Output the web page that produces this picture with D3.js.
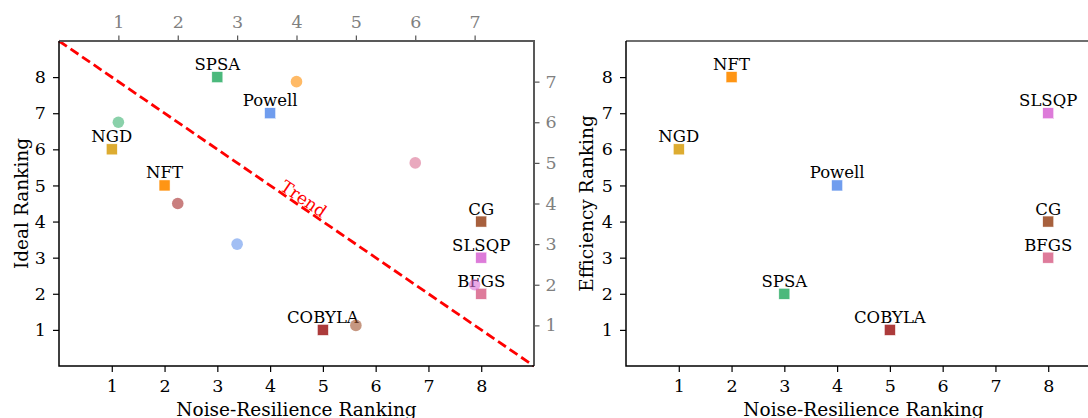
<!DOCTYPE html>
<html>
<head>
<meta charset="utf-8">
<script src="https://cdn.jsdelivr.net/npm/d3@7"></script>
<style>
  body { margin: 0; background: #fff; }
  svg { display: block; font-family: "DejaVu Serif", serif; }
</style>
</head>
<body>
<svg id="chart" width="1088" height="418"></svg>
<script>
// Methods and their rankings
const methods = ["NGD", "NFT", "SPSA", "Powell", "COBYLA", "CG", "SLSQP", "BFGS"];
const methodColors = ["#DAA520", "#FF8C00", "#3CB371", "#6495ED", "#A52A2A", "#A0522D", "#DA70D6", "#DB7093"];
const noiseRank = [1, 2, 3, 4, 5, 8, 8, 8];
const idealRank = [6, 5, 8, 7, 1, 4, 3, 2];
const efficiencyRank = [6, 8, 2, 5, 1, 4, 7, 3];

// Secondary (twin-axis) points on the left panel
const twinX = [1, 2, 3, 4, 5, 6, 7];
const twinY = [6, 4, 3, 7, 1, 5, 2];
const twinMethod = ["SPSA", "COBYLA", "Powell", "NFT", "CG", "BFGS", "SLSQP"];

// Trend line endpoints (primary axes)
const trendX = [0, 9];
const trendY = [9, 0];

const mainTicks = [1, 2, 3, 4, 5, 6, 7, 8];
const twinTicks = [1, 2, 3, 4, 5, 6, 7];

const svg = d3.select("#chart");
const plotTop = 41, plotBottom = 366;
const colorOf = (m) => methodColors[methods.indexOf(m)];

function styleAxis(g, color, textColor) {
  g.select(".domain").remove();
  g.selectAll(".tick line").attr("stroke", color).attr("stroke-width", 1.2);
  g.selectAll(".tick text").attr("fill", textColor).style("font-size", "17.5px")
    .style("font-family", "DejaVu Serif");
}

function panel(left, right, yValues, yLabel, labelX) {
  const x = d3.scaleLinear().domain([0, 9]).range([left, right]);
  const y = d3.scaleLinear().domain([0, 9]).range([plotBottom, plotTop]);

  svg.append("g")
    .attr("transform", `translate(0,${plotBottom})`)
    .call(d3.axisBottom(x).tickValues(mainTicks).tickSize(6).tickPadding(8))
    .call((g) => styleAxis(g, "#000", "#000"));

  svg.append("g")
    .attr("transform", `translate(${left},0)`)
    .call(d3.axisLeft(y).tickValues(mainTicks).tickSize(6).tickPadding(7))
    .call((g) => styleAxis(g, "#000", "#000"));

  // axis titles
  svg.append("text")
    .attr("x", (left + right) / 2).attr("y", 415.5)
    .attr("text-anchor", "middle")
    .style("font-size", "18.5px")
    .text("Noise-Resilience Ranking");

  svg.append("text")
    .attr("transform", `translate(${labelX},${(plotTop + plotBottom) / 2}) rotate(-90)`)
    .attr("text-anchor", "middle")
    .style("font-size", "18.5px")
    .text(yLabel);

  // squares with labels
  const pts = svg.append("g");
  methods.forEach((m, i) => {
    const cx = x(noiseRank[i]), cy = y(yValues[i]);
    pts.append("rect")
      .attr("x", cx - 5.5).attr("y", cy - 5.5)
      .attr("width", 11).attr("height", 11)
      .attr("fill", methodColors[i])
      .attr("fill-opacity", 0.92)
      .attr("stroke", "#fff").attr("stroke-width", 0.5);
    pts.append("text")
      .attr("x", cx).attr("y", cy - 7)
      .attr("text-anchor", "middle")
      .style("font-size", "16.5px")
      .text(m);
  });

  return { x, y };
}

// Left panel
const L = panel(59, 534, idealRank, "Ideal Ranking", 28);

// Trend line
svg.append("line")
  .attr("x1", L.x(trendX[0])).attr("y1", L.y(trendY[0]))
  .attr("x2", L.x(trendX[1])).attr("y2", L.y(trendY[1]))
  .attr("stroke", "#ff0000").attr("stroke-width", 2.8)
  .attr("stroke-dasharray", "9.5,4.5");

const angle = Math.atan2(L.y(trendY[1]) - L.y(trendY[0]), L.x(trendX[1]) - L.x(trendX[0])) * 180 / Math.PI;
const tx = L.x(4.55), ty = L.y(9 - 4.55);
svg.append("text")
  .attr("transform", `translate(${tx},${ty}) rotate(${angle})`)
  .attr("text-anchor", "middle")
  .attr("dy", -2)
  .attr("fill", "#ff0000")
  .style("font-size", "17px")
  .text("Trend");

// Twin axes (top / right)
const x2 = d3.scaleLinear().domain([0, 8]).range([59, 534]);
const y2 = d3.scaleLinear().domain([0, 8]).range([plotBottom, plotTop]);

svg.append("g")
  .attr("transform", `translate(0,${plotTop})`)
  .call(d3.axisTop(x2).tickValues(twinTicks).tickSize(5.5).tickPadding(8))
  .call((g) => styleAxis(g, "#555", "#808080"));

svg.append("g")
  .attr("transform", `translate(534,0)`)
  .call(d3.axisRight(y2).tickValues(twinTicks).tickSize(5.5).tickPadding(6))
  .call((g) => styleAxis(g, "#555", "#808080"));

svg.append("g").selectAll("circle")
  .data(twinX)
  .join("circle")
  .attr("cx", (d) => x2(d))
  .attr("cy", (d, i) => y2(twinY[i]))
  .attr("r", 5.8)
  .attr("fill", (d, i) => colorOf(twinMethod[i]))
  .attr("fill-opacity", 0.6);

// Left panel spines
svg.append("path").attr("d", `M59,${plotTop}H534V${plotBottom}`)
  .attr("fill", "none").attr("stroke", "#595959").attr("stroke-width", 2);
svg.append("path").attr("d", `M59,${plotTop}V${plotBottom}H534`)
  .attr("fill", "none").attr("stroke", "#000").attr("stroke-width", 1.5);

// Right panel
const R = panel(626, 1101, efficiencyRank, "Efficiency Ranking", 593);
svg.append("path").attr("d", `M626,${plotTop}H1101V${plotBottom}`)
  .attr("fill", "none").attr("stroke", "#404040").attr("stroke-width", 1.5);
svg.append("path").attr("d", `M626,${plotTop}V${plotBottom}H1101`)
  .attr("fill", "none").attr("stroke", "#000").attr("stroke-width", 1.5);
</script>
</body>
</html>
